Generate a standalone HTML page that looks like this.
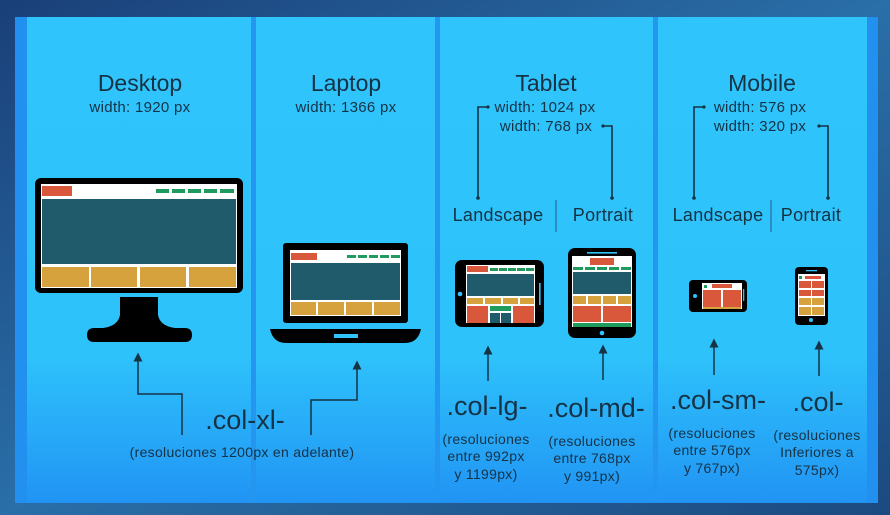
<!DOCTYPE html>
<html><head><meta charset="utf-8"><style>
html,body{margin:0;padding:0;width:890px;height:515px;overflow:hidden;background:#1d4f86;}
svg{display:block}
text{font-family:"Liberation Sans",sans-serif;fill:#163245;}
</style></head><body>
<svg width="890" height="515" viewBox="0 0 890 515" xmlns="http://www.w3.org/2000/svg">
<defs>
<linearGradient id="bg" x1="0" y1="0" x2="1" y2="1">
<stop offset="0" stop-color="#1a3f78"/><stop offset="0.5" stop-color="#2a6fa8"/><stop offset="1" stop-color="#1b4a80"/></linearGradient>
<linearGradient id="pan" x1="0" y1="0" x2="0" y2="1">
<stop offset="0" stop-color="#2fc4fb"/><stop offset="0.7" stop-color="#2ec2fb"/><stop offset="1" stop-color="#2194f4"/></linearGradient>
<marker id="ah" viewBox="0 0 10 10" refX="5" refY="5" markerWidth="6" markerHeight="6" orient="auto-start-reverse"><path d="M0,0 L10,5 L0,10 z" fill="#163245"/></marker>
</defs>
<rect width="890" height="515" fill="url(#bg)"/>
<rect x="15" y="17" width="863" height="486" fill="#2290ef"/>
<rect x="27" y="17" width="840" height="485" fill="url(#pan)"/>
<rect x="251" y="17" width="5" height="485" fill="#2596f0"/>
<rect x="435" y="17" width="5" height="485" fill="#2596f0"/>
<rect x="653" y="17" width="5" height="485" fill="#2596f0"/>

<!-- Titles -->
<g font-size="23" text-anchor="middle">
<text x="140" y="91">Desktop</text>
<text x="346" y="91">Laptop</text>
<text x="546" y="91">Tablet</text>
<text x="762" y="91">Mobile</text>
</g>
<g font-size="15" text-anchor="middle" letter-spacing="0.3">
<text x="140" y="112">width: 1920 px</text>
<text x="346" y="112">width: 1366 px</text>
<text x="545" y="112">width: 1024 px</text>
<text x="546" y="131">width: 768 px</text>
<text x="760" y="112">width: 576 px</text>
<text x="760" y="131">width: 320 px</text>
</g>

<!-- brackets -->
<g stroke="#163245" stroke-width="1.6" fill="none">
<polyline points="487,107 478,107 478,198"/>
<polyline points="603,126 612,126 612,198"/>
<polyline points="703,107 694,107 694,198"/>
<polyline points="820,126 828,126 828,198"/>
<line x1="556" y1="200" x2="556" y2="232" stroke="#2a80b8"/>
<line x1="771" y1="200" x2="771" y2="232" stroke="#2a80b8"/>
</g>
<g fill="#163245"><circle cx="478" cy="198" r="1.8"/><circle cx="612" cy="198" r="1.8"/><circle cx="694" cy="198" r="1.8"/><circle cx="828" cy="198" r="1.8"/><circle cx="488" cy="107" r="1.6"/><circle cx="603" cy="126" r="1.6"/><circle cx="704" cy="107" r="1.6"/><circle cx="819" cy="126" r="1.6"/></g>
<g font-size="18" text-anchor="middle" letter-spacing="0.3">
<text x="498" y="221">Landscape</text>
<text x="603" y="221">Portrait</text>
<text x="718" y="221">Landscape</text>
<text x="811" y="221">Portrait</text>
</g>

<!-- Desktop monitor -->
<rect x="35" y="178" width="208" height="115" rx="6" fill="#000"/>
<rect x="41" y="184" width="196" height="104" fill="#fff"/>
<rect x="42" y="186" width="30" height="10" fill="#d9573a"/>
<g fill="#1f9b5e"><rect x="156" y="189" width="13" height="4"/><rect x="172" y="189" width="13" height="4"/><rect x="188" y="189" width="13" height="4"/><rect x="204" y="189" width="13" height="4"/><rect x="220" y="189" width="14" height="4"/></g>
<rect x="42" y="199" width="194" height="65" fill="#1f5b6a"/>
<g fill="#d6a23e"><rect x="42" y="267" width="47" height="20"/><rect x="91" y="267" width="46" height="20"/><rect x="140" y="267" width="46" height="20"/><rect x="189" y="267" width="47" height="20"/></g>
<path d="M120,297 H158 V315 Q160,326 175,328 H185 Q192,328 192,335 Q192,342 185,342 H94 Q87,342 87,335 Q87,328 94,328 H103 Q118,326 120,315 Z" fill="#000"/>

<!-- Laptop -->
<rect x="283" y="243" width="125" height="80" rx="3" fill="#000"/>
<rect x="290" y="250" width="111" height="66" fill="#fff"/>
<rect x="291" y="253" width="26" height="7" fill="#d9573a"/>
<g fill="#1f9b5e"><rect x="347" y="255" width="9" height="3"/><rect x="358" y="255" width="9" height="3"/><rect x="369" y="255" width="9" height="3"/><rect x="380" y="255" width="9" height="3"/><rect x="391" y="255" width="9" height="3"/></g>
<rect x="291" y="263" width="109" height="37" fill="#1f5b6a"/>
<g fill="#d6a23e"><rect x="291" y="302" width="25" height="13"/><rect x="318" y="302" width="26" height="13"/><rect x="346" y="302" width="26" height="13"/><rect x="374" y="302" width="26" height="13"/></g>
<path d="M270,329 H421 Q418,343 405,343 H286 Q273,343 270,329 Z" fill="#000"/>
<rect x="334" y="334" width="24" height="4" fill="#2fc4fb"/>

<!-- Tablet landscape -->
<rect x="455" y="260" width="89" height="67" rx="7" fill="#000"/>
<rect x="466" y="265" width="69" height="58" fill="#fff"/>
<rect x="467" y="266" width="21" height="6" fill="#d9573a"/>
<g fill="#1f9b5e"><rect x="490" y="268" width="8" height="3"/><rect x="499" y="268" width="8" height="3"/><rect x="508" y="268" width="8" height="3"/><rect x="517" y="268" width="8" height="3"/><rect x="526" y="268" width="8" height="3"/></g>
<rect x="467" y="274" width="67" height="22" fill="#1f5b6a"/>
<g fill="#d6a23e"><rect x="467" y="298" width="16" height="6"/><rect x="485" y="298" width="16" height="6"/><rect x="503" y="298" width="15" height="6"/><rect x="520" y="298" width="14" height="6"/></g>
<rect x="467" y="306" width="21" height="17" fill="#d9573a"/><rect x="513" y="306" width="21" height="17" fill="#d9573a"/>
<rect x="490" y="306" width="21" height="5" fill="#1f9b5e"/>
<rect x="490" y="313" width="10" height="10" fill="#1f5b6a"/><rect x="501" y="313" width="10" height="10" fill="#1f5b6a"/>
<circle cx="460" cy="294" r="2.3" fill="#2fc4fb"/>
<rect x="539" y="283" width="1.6" height="22" fill="#2fc4fb"/>

<!-- Tablet portrait -->
<rect x="568" y="248" width="68" height="90" rx="7" fill="#000"/>
<rect x="572" y="256" width="60" height="71" fill="#fff"/>
<rect x="587" y="252" width="30" height="1.6" fill="#2fc4fb"/>
<rect x="590" y="258" width="24" height="7" fill="#d9573a"/>
<g fill="#1f9b5e"><rect x="573" y="267" width="10" height="3"/><rect x="585" y="267" width="10" height="3"/><rect x="597" y="267" width="10" height="3"/><rect x="609" y="267" width="10" height="3"/><rect x="621" y="267" width="10" height="3"/></g>
<rect x="573" y="272" width="58" height="22" fill="#1f5b6a"/>
<g fill="#d6a23e"><rect x="573" y="296" width="13" height="8"/><rect x="588" y="296" width="13" height="8"/><rect x="603" y="296" width="13" height="8"/><rect x="618" y="296" width="13" height="8"/></g>
<rect x="573" y="306" width="28" height="16" fill="#d9573a"/><rect x="603" y="306" width="28" height="16" fill="#d9573a"/>
<rect x="573" y="323" width="58" height="4" fill="#1f9b5e"/>
<circle cx="602" cy="333" r="2.3" fill="#2fc4fb"/>

<!-- Mobile landscape -->
<rect x="689" y="280" width="58" height="32" rx="4" fill="#000"/>
<rect x="702" y="283" width="40" height="26" fill="#fff"/>
<rect x="704" y="285" width="3" height="3" fill="#1f9b5e"/>
<rect x="712" y="284" width="20" height="4" fill="#d9573a"/>
<rect x="703" y="290" width="18" height="17" fill="#d9573a"/><rect x="723" y="290" width="18" height="17" fill="#d9573a"/>
<rect x="703" y="307" width="38" height="2" fill="#d6a23e"/>
<circle cx="695" cy="296" r="2" fill="#2fc4fb"/>
<rect x="743" y="289" width="1.3" height="12" fill="#2fc4fb"/>

<!-- Mobile portrait -->
<rect x="795" y="267" width="33" height="58" rx="4" fill="#000"/>
<rect x="798" y="274" width="27" height="42" fill="#fff"/>
<rect x="806" y="270" width="11" height="1.3" fill="#2fc4fb"/>
<rect x="799" y="276" width="3" height="3" fill="#1f9b5e"/>
<rect x="805" y="276" width="16" height="3" fill="#d9573a"/>
<g><rect x="799" y="281" width="12" height="7" fill="#d9573a"/><rect x="812" y="281" width="12" height="7" fill="#d9573a"/>
<rect x="799" y="290" width="12" height="6" fill="#d9573a"/><rect x="812" y="290" width="12" height="6" fill="#d9573a"/>
<rect x="799" y="298" width="12" height="7" fill="#d6a23e"/><rect x="812" y="298" width="12" height="7" fill="#d6a23e"/>
<rect x="799" y="307" width="12" height="8" fill="#d6a23e"/><rect x="812" y="307" width="12" height="8" fill="#d6a23e"/></g>
<circle cx="811" cy="320" r="2" fill="#2fc4fb"/>

<!-- arrows -->
<g stroke="#163245" stroke-width="1.5" fill="none">
<polyline points="182,435 182,394 138,394 138,357" marker-end="url(#ah)"/>
<polyline points="311,435 311,400 357,400 357,365" marker-end="url(#ah)"/>
<line x1="488" y1="381" x2="488" y2="350" marker-end="url(#ah)"/>
<line x1="603" y1="380" x2="603" y2="349" marker-end="url(#ah)"/>
<line x1="714" y1="375" x2="714" y2="343" marker-end="url(#ah)"/>
<line x1="819" y1="376" x2="819" y2="345" marker-end="url(#ah)"/>
</g>

<!-- class labels -->
<g font-size="27" text-anchor="middle">
<text x="245" y="429">.col-xl-</text>
<text x="487" y="415">.col-lg-</text>
<text x="596" y="417">.col-md-</text>
<text x="718" y="409">.col-sm-</text>
<text x="818" y="411">.col-</text>
</g>
<g font-size="14" text-anchor="middle" letter-spacing="0.3">
<text x="242" y="457">(resoluciones 1200px en adelante)</text>
<text x="486" y="444">(resoluciones</text><text x="486" y="461">entre 992px</text><text x="486" y="479">y 1199px)</text>
<text x="592" y="446">(resoluciones</text><text x="592" y="463">entre 768px</text><text x="592" y="481">y 991px)</text>
<text x="712" y="438">(resoluciones</text><text x="712" y="455">entre 576px</text><text x="712" y="473">y 767px)</text>
<text x="817" y="440">(resoluciones</text><text x="817" y="457">Inferiores a</text><text x="817" y="475">575px)</text>
</g>
</svg>
</body></html>
